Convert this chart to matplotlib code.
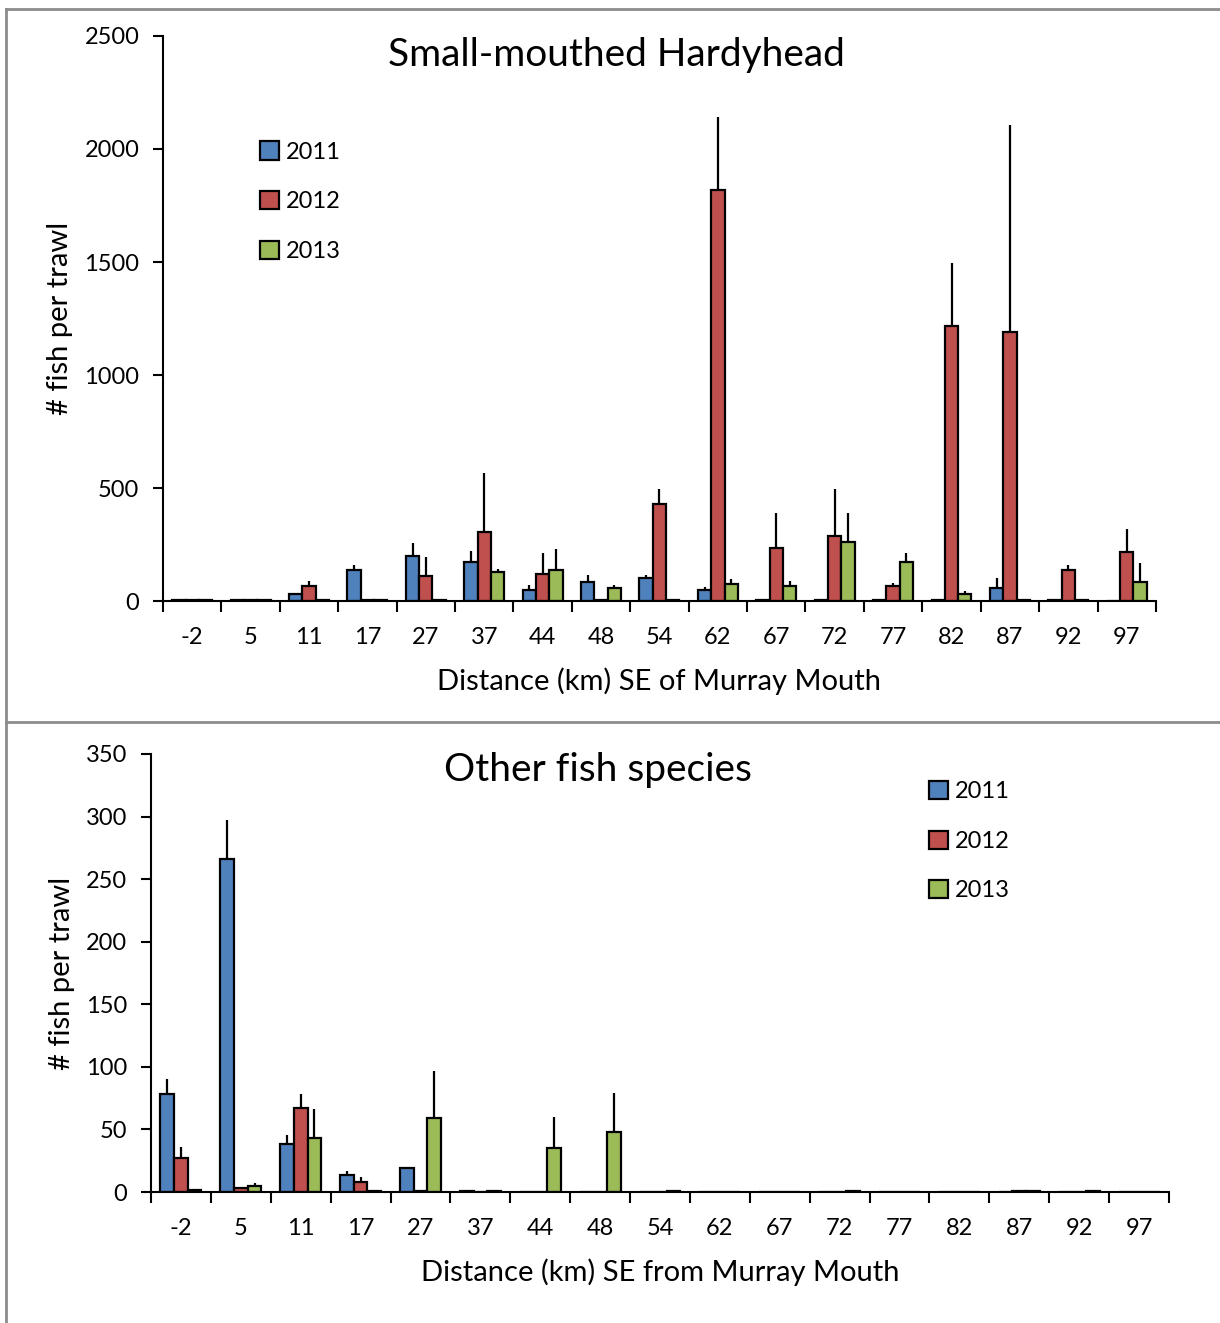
import numpy as np
import matplotlib.pyplot as plt
from matplotlib.lines import Line2D

plt.rcParams['font.family'] = ['Lato', 'DejaVu Sans']

# top panel: Small-mouthed Hardyhead
top_sites = ['-2', '5', '11', '17', '27', '37', '44', '48', '54', '62', '67', '72', '77', '82', '87', '92', '97']
top_2011 = [4, 4, 30, 137, 199, 171, 47, 83, 100, 47, 4, 4, 4, 4, 56, 4, 0]
top_2012 = [4, 4, 65, 4, 110, 304, 118, 4, 428, 1819, 233, 286, 66, 1217, 1190, 136, 215]
top_2013 = [4, 4, 4, 4, 4, 127, 136, 56, 4, 74, 65, 260, 171, 31, 4, 4, 83]
top_se_2011 = [0, 0, 0, 23, 58, 51, 25, 33, 16, 16, 0, 0, 0, 0, 44, 0, 0]
top_se_2012 = [0, 0, 23, 0, 85, 262, 96, 0, 69, 323, 158, 211, 15, 279, 916, 25, 105]
top_se_2013 = [0, 0, 0, 0, 0, 15, 95, 16, 0, 25, 25, 131, 43, 15, 0, 0, 87]

# bottom panel: Other fish species
bot_sites = ['-2', '5', '11', '17', '27', '37', '44', '48', '54', '62', '67', '72', '77', '82', '87', '92', '97']
bot_2011 = [78, 266, 38, 14, 19, 1, 0, 0, 0, 0, 0, 0, 0, 0, 0, 0, 0]
bot_2012 = [27, 3, 67, 7.7, 1, 0, 0, 0, 0, 0, 0, 0, 0, 0, 1, 0, 0]
bot_2013 = [1.5, 5, 43, 1, 59, 1, 35, 48, 1, 0, 0, 1, 0, 0, 1, 1, 0]
bot_se_2011 = [12, 31, 7.5, 3, 0, 0, 0, 0, 0, 0, 0, 0, 0, 0, 0, 0, 0]
bot_se_2012 = [9, 1, 11, 4.3, 0, 0, 0, 0, 0, 0, 0, 0, 0, 0, 0, 0, 0]
bot_se_2013 = [1, 2.5, 23, 0, 38, 0, 25, 31, 0, 0, 0, 0, 0, 0, 0, 0, 0]

years = ['2011', '2012', '2013']
colors = ['#4F81BD', '#C0504D', '#9BBB59']


def draw_panel(ax, sites, series, errs, ymax, ystep, xlabel, leg_anchor):
    x = np.arange(len(sites))
    w = 0.228
    for i, (vals, se) in enumerate(zip(series, errs)):
        xi = x + (i - 1) * w
        ax.bar(xi, vals, w, color=colors[i], edgecolor='black', linewidth=1.6,
               label=years[i], zorder=2)
        vals = np.array(vals, dtype=float)
        se = np.array(se, dtype=float)
        ax.errorbar(xi, vals, yerr=[np.zeros_like(se), se], fmt='none',
                    ecolor='black', elinewidth=1.6, capsize=0, zorder=3)
    ax.set_xlim(-0.5, len(sites) - 0.5)
    ax.set_ylim(0, ymax)
    ax.set_yticks(np.arange(0, ymax + 1, ystep))
    ax.set_xticks(x)
    ax.set_xticklabels(sites)
    ax.set_xticks(np.arange(-0.5, len(sites), 1), minor=True)
    ax.tick_params(axis='x', which='major', length=0, pad=19, labelsize=17)
    ax.tick_params(axis='x', which='minor', length=8, width=1.5, direction='out')
    ax.tick_params(axis='y', length=7, width=1.5, labelsize=17, pad=10)
    for s in ['top', 'right']:
        ax.spines[s].set_visible(False)
    for s in ['left', 'bottom']:
        ax.spines[s].set_linewidth(1.5)
    ax.set_ylabel('# fish per trawl', fontsize=21, labelpad=8)
    ax.set_xlabel(xlabel, fontsize=21, labelpad=14)
    ax.legend(loc='upper left', bbox_to_anchor=leg_anchor, frameon=False,
              fontsize=17, handlelength=0.8, handleheight=0.8, labelspacing=1.2,
              handletextpad=0.3, borderaxespad=0)


fig = plt.figure(figsize=(12.2, 13.23), dpi=100)
ax1 = fig.add_axes([0.1336, 0.5457, 0.8139, 0.4271])
ax2 = fig.add_axes([0.1238, 0.0990, 0.8344, 0.3311])

draw_panel(ax1, top_sites, [top_2011, top_2012, top_2013],
           [top_se_2011, top_se_2012, top_se_2013], 2500, 500,
           'Distance (km) SE of Murray Mouth', (0.088, 0.83))
draw_panel(ax2, bot_sites, [bot_2011, bot_2012, bot_2013],
           [bot_se_2011, bot_se_2012, bot_se_2013], 350, 50,
           'Distance (km) SE from Murray Mouth', (0.755, 0.96))

fig.text(616 / 1220, 1 - 55 / 1323, 'Small-mouthed Hardyhead', fontsize=28,
         ha='center', va='center')
fig.text(598 / 1220, 1 - 770 / 1323, 'Other fish species', fontsize=28,
         ha='center', va='center')

# grey panel frames
gray = '#8c8c8c'
fig.add_artist(Line2D([6 / 1220, 1], [1 - 9 / 1323] * 2, color=gray, lw=2))
fig.add_artist(Line2D([6 / 1220, 1], [1 - 722 / 1323] * 2, color=gray, lw=2))
fig.add_artist(Line2D([6 / 1220] * 2, [0, 1 - 9 / 1323], color=gray, lw=2))

fig.savefig('out.png', dpi=100)
